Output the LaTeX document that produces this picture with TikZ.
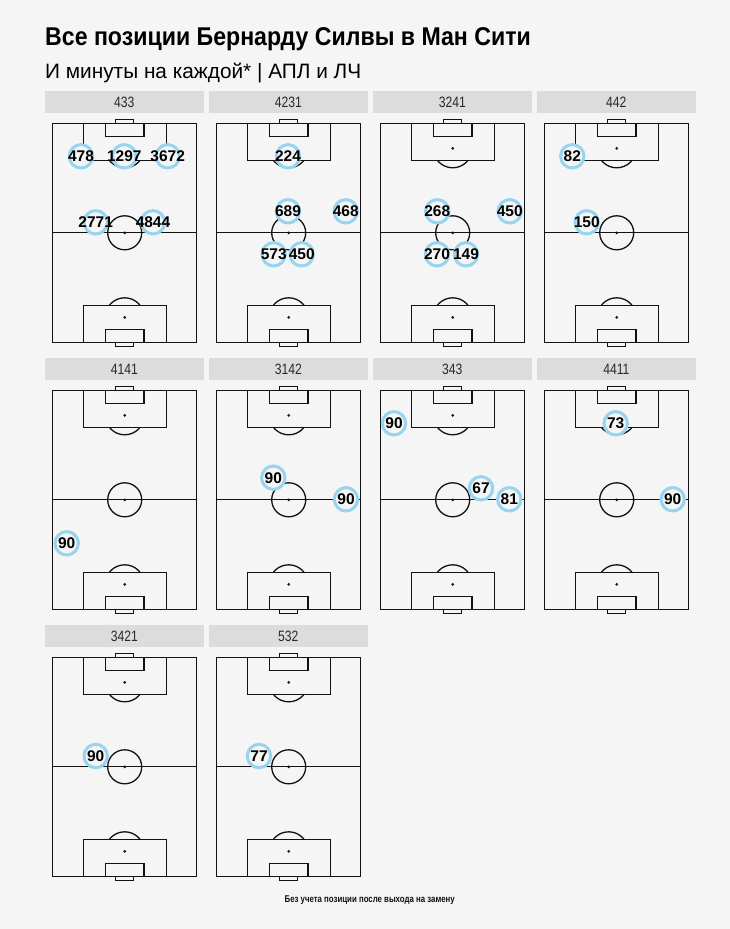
\documentclass[tikz,border=0pt]{standalone}
\usepackage{fontspec}
\setmainfont{Liberation Sans}
\newfontfamily\titlef{Liberation Sans}[FakeStretch=0.9]
\newfontfamily\hdrf{Liberation Sans}[FakeStretch=0.81]
\newfontfamily\footf{Liberation Sans}[FakeStretch=0.8]
\definecolor{bg}{RGB}{245,245,245}
\definecolor{hdr}{RGB}{220,220,220}
\definecolor{ring}{RGB}{150,212,240}
\definecolor{ink}{RGB}{17,17,17}
\tikzset{
  pline/.style={draw=ink, line width=1.3pt},
  hdrbox/.style={fill=hdr, draw=none},
  hdrtxt/.style={inner sep=0pt, text=ink!90, font=\fontsize{15}{16}\hdrf},
  lbl/.style={circle, draw=ring, line width=3pt, fill=bg, minimum size=23.4pt, inner sep=0pt},
  lbltxt/.style={inner sep=0pt, text=black, font=\fontsize{15.5}{16}\selectfont\bfseries},
  pitch/.pic={
    \draw[pline] (0,0) rectangle (144,219);
    \draw[pline] (0,109.5) -- (144,109.5);
    \draw[pline] (72,109.5) circle[radius=17];
    \fill[ink] (72,109.5) circle[radius=1.5];
    % top end
    \draw[pline] (30.5,0) rectangle (113.5,37);
    \draw[pline] (52.8,0) rectangle (91.2,13);
    \draw[pline] (63,-4) rectangle (81,0);
    \fill[ink] (72,25) circle[radius=1.5];
    \begin{scope}
      \clip (-5,37) rectangle (149,70);
      \draw[pline] (72,25) circle[radius=19.5];
    \end{scope}
    % bottom end
    \draw[pline] (30.5,219) rectangle (113.5,182);
    \draw[pline] (52.8,219) rectangle (91.2,206);
    \draw[pline] (63,223) rectangle (81,219);
    \fill[ink] (72,194) circle[radius=1.5];
    \begin{scope}
      \clip (-5,182) rectangle (149,150);
      \draw[pline] (72,194) circle[radius=19.5];
    \end{scope}
  }
}
\newcommand\mypanel[4]{%
  \begin{scope}[shift={(45+164*#1,91+267*#2)}]
    \fill[hdrbox] (0,0) rectangle (158.7,21.5);
    \node[hdrtxt] (h-#1-#2) at (79.35,11.3) {#3};
  \end{scope}
  \begin{scope}[shift={(52.7+164*#1,123.3+267*#2)}]
    \pic {pitch};
    \foreach \px/\py/\t [count=\k] in {#4} {
      \node[lbl] (c-#1-#2-\k) at (\px,\py) {};
      \node[lbltxt] (t-#1-#2-\k) at (c-#1-#2-\k.center) {\t};
    }
  \end{scope}
}
\begin{document}
\begin{tikzpicture}[x=1pt,y=-1pt]
\fill[bg] (0,0) rectangle (730,929);
\useasboundingbox (0,0) rectangle (730,929);
\node[anchor=base west, inner sep=0pt, font=\fontsize{25.7}{30}\titlef\bfseries] (title) at (45,45.7) {Все позиции Бернарду Силвы в Ман Сити};
\node[anchor=base west, inner sep=0pt, font=\fontsize{20.8}{24}\selectfont] (subtitle) at (45,78.3) {И минуты на каждой* | АПЛ и ЛЧ};
\mypanel{0}{0}{433}{28.3/33/478, 71.6/33/1297, 115/33/3672, 43/99/2771, 100.3/99/4844}
\mypanel{1}{0}{4231}{71.3/33/224, 71.3/88/689, 129/88/468, 57/131/573, 85/131/450}
\mypanel{2}{0}{3241}{56.6/88/268, 129/88/450, 56.3/131/270, 85.3/131/149}
\mypanel{3}{0}{442}{27.6/33/82, 42/99/150}
\mypanel{0}{1}{4141}{14/153/90}
\mypanel{1}{1}{3142}{56.6/87.4/90, 129.3/109/90}
\mypanel{2}{1}{343}{13.3/33/90, 100.3/98/67, 128.6/109/81}
\mypanel{3}{1}{4411}{71/33/73, 128/109/90}
\mypanel{0}{2}{3421}{43/98.7/90}
\mypanel{1}{2}{532}{42.3/98.7/77}
\node[inner sep=0pt, font=\fontsize{9.8}{11}\footf\bfseries, text=ink] (foot) at (369.7,900) {Без учета позиции после выхода на замену};
\end{tikzpicture}
\end{document}
